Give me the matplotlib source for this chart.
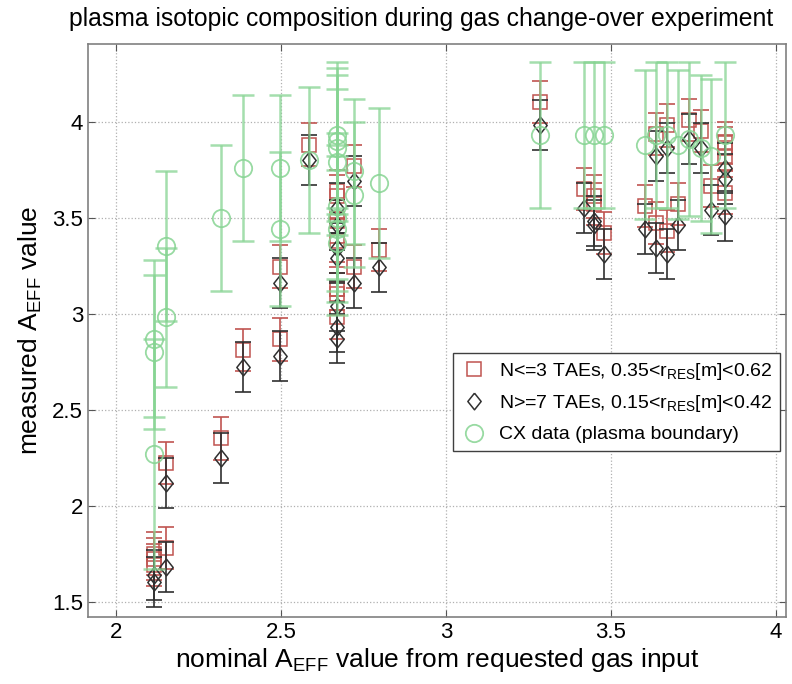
import numpy as np
import matplotlib
matplotlib.use('Agg')
import matplotlib.pyplot as plt

plt.rcParams['font.family'] = ['Liberation Sans Narrow', 'Liberation Sans', 'DejaVu Sans']

# red squares: N<=3 TAEs
sq_x = [2.116, 2.116, 2.116, 2.152, 2.152, 2.318, 2.384, 2.497, 2.497, 2.584,
        2.669, 2.669, 2.669, 2.669, 2.669, 2.669, 2.669, 2.721, 2.721, 2.797,
        3.284, 3.42, 3.45, 3.45, 3.48, 3.605, 3.636, 3.636, 3.669, 3.669,
        3.703, 3.737, 3.772, 3.805, 3.845, 3.845, 3.845, 3.845]
sq_y = [1.69, 1.72, 1.75, 2.22, 1.78, 2.35, 2.81, 3.245, 2.865, 3.88,
        3.64, 3.61, 3.48, 3.38, 3.13, 3.10, 2.98, 3.77, 3.245, 3.33,
        4.10, 3.65, 3.61, 3.57, 3.42, 3.56, 3.935, 3.47, 3.98, 3.43,
        3.57, 4.01, 3.95, 3.665, 3.89, 3.86, 3.82, 3.63]
sq_err = 0.11

# black diamonds: N>=7 TAEs
dm_x = [2.116, 2.116, 2.152, 2.152, 2.318, 2.384, 2.497, 2.497, 2.584,
        2.669, 2.669, 2.669, 2.669, 2.669, 2.669, 2.669, 2.721, 2.721, 2.797,
        3.284, 3.42, 3.45, 3.45, 3.48, 3.605, 3.636, 3.636, 3.669, 3.669,
        3.703, 3.737, 3.772, 3.805, 3.845, 3.845, 3.845]
dm_y = [1.60, 1.64, 2.12, 1.68, 2.25, 2.72, 3.16, 2.78, 3.80,
        3.55, 3.46, 3.34, 3.29, 3.04, 2.93, 2.87, 3.69, 3.16, 3.24,
        3.98, 3.55, 3.48, 3.46, 3.31, 3.44, 3.82, 3.34, 3.86, 3.31,
        3.46, 3.91, 3.86, 3.54, 3.76, 3.70, 3.51]
dm_err = 0.13

# green circles: CX data
cx_x = [2.116, 2.116, 2.116, 2.152, 2.152, 2.318, 2.384, 2.497, 2.497, 2.584,
        2.669, 2.669, 2.669, 2.669, 2.669, 2.669, 2.669, 2.669, 2.721, 2.721, 2.797,
        3.284, 3.42, 3.45, 3.48, 3.605, 3.636, 3.669, 3.703, 3.737, 3.772, 3.805, 3.845]
cx_y = [2.87, 2.80, 2.27, 3.35, 2.98, 3.50, 3.76, 3.76, 3.44, 3.80,
        3.93, 3.90, 3.86, 3.79, 3.56, 3.50, 3.44, 3.37, 3.74, 3.62, 3.68,
        3.93, 3.93, 3.93, 3.93, 3.88, 3.93, 3.93, 3.88, 3.91, 3.86, 3.82, 3.93]
cx_err = [0.41, 0.40, 0.60, 0.39, 0.36, 0.38, 0.38, 0.38, 0.40, 0.38,
          0.38, 0.38, 0.38, 0.38, 0.38, 0.38, 0.38, 0.38, 0.38, 0.38, 0.39,
          0.38, 0.38, 0.38, 0.38, 0.39, 0.38, 0.38, 0.39, 0.40, 0.38, 0.40, 0.38]

red = '#c05450'
blk = '#303030'
grn = '#86d492'

# slightly squat diamond, like the matlab one
diamond = [(0, 1), (0.8, 0), (0, -1), (-0.8, 0), (0, 1)]

fig = plt.figure(figsize=(7.92, 6.84), dpi=100)
ax = fig.add_axes([0.111, 0.098, 0.881, 0.838])

ax.errorbar(sq_x, sq_y, yerr=sq_err, fmt='none', ecolor=red, elinewidth=1.2,
            capsize=6, capthick=1.2)
ax.plot(sq_x, sq_y, 's', ms=10, mfc='none', mec=red, mew=1.1, ls='none',
        label='N<=3 TAEs, 0.35<r$\\mathregular{_{RES}}$[m]<0.62')

ax.errorbar(dm_x, dm_y, yerr=dm_err, fmt='none', ecolor=blk, elinewidth=1.2,
            capsize=6, capthick=1.2)
ax.plot(dm_x, dm_y, marker=diamond, ms=12, mfc='none', mec=blk, mew=1.1, ls='none',
        label='N>=7 TAEs, 0.15<r$\\mathregular{_{RES}}$[m]<0.42')

ax.errorbar(cx_x, cx_y, yerr=cx_err, fmt='none', ecolor=grn, elinewidth=1.8,
            capsize=8, capthick=1.8, alpha=0.75)
ax.plot(cx_x, cx_y, 'o', ms=12.5, mfc='none', mec=grn, mew=1.3, ls='none',
        alpha=0.85, label='CX data (plasma boundary)')

ax.set_xlim(1.915, 4.03)
ax.set_ylim(1.42, 4.405)
ax.set_xticks([2, 2.5, 3, 3.5, 4])
ax.set_xticklabels(['2', '2.5', '3', '3.5', '4'])
ax.set_yticks([1.5, 2, 2.5, 3, 3.5, 4])
ax.set_yticklabels(['1.5', '2', '2.5', '3', '3.5', '4'])
ax.tick_params(direction='in', top=True, right=True, length=5, labelsize=16,
               color='#555555')
ax.grid(True, ls=':', color='#b0b0b0', lw=0.9)
for s in ax.spines.values():
    s.set_color('#808080')
    s.set_linewidth(1.2)

ax.set_xlabel('nominal A$\\mathregular{_{EFF}}$ value from requested gas input',
              fontsize=19, labelpad=2)
ax.set_ylabel('measured A$\\mathregular{_{EFF}}$ value', fontsize=19, labelpad=6)
# title sits a bit left of the axes centre in the original
ax.set_title('plasma isotopic composition during gas change-over experiment',
             fontsize=17.8, pad=13, x=0.477)

leg = ax.legend(loc='upper left', bbox_to_anchor=(0.523, 0.461), fontsize=14,
                fancybox=False, framealpha=1, edgecolor='#404040',
                borderaxespad=0, borderpad=0.4, handlelength=1.4,
                handletextpad=0.55, labelspacing=0.6)
leg.get_frame().set_linewidth(1.0)

fig.savefig('out.png', dpi=100)
